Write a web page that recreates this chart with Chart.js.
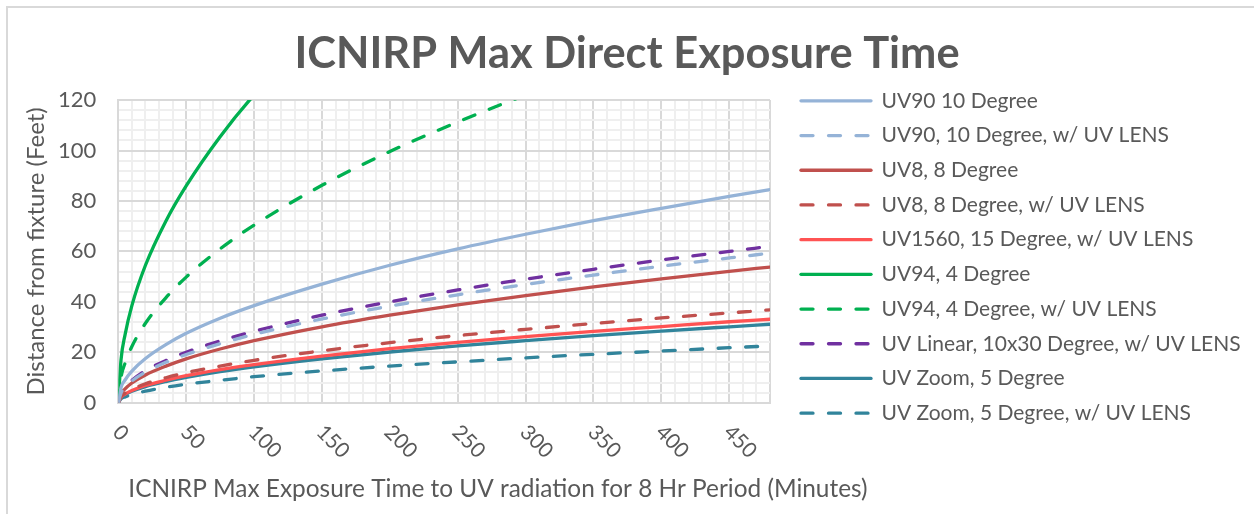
<!DOCTYPE html>
<html>
<head>
<meta charset="utf-8">
<title>ICNIRP Max Direct Exposure Time</title>
<script src="https://cdn.jsdelivr.net/npm/chart.js@4.4.1/dist/chart.umd.min.js"></script>
<style>
    html, body { margin: 0; padding: 0; background: #fff; overflow: hidden; }
    #frame { position: absolute; left: 6px; top: 6px; width: 1400px; height: 700px;
             border-left: 2px solid #D9D9D9; border-top: 2px solid #D9D9D9; }
    #chart { position: absolute; left: 0; top: 0; }
</style>
</head>
<body>
<div id="frame"></div>
<canvas id="chart" width="1254" height="514"></canvas>
<script>
/* jshint esversion: 6 */

let minutes = [0, 2, 5, 10, 20, 35, 50, 75, 100, 150, 200, 250, 300, 350, 400, 450, 480];

// Distance from fixture (feet) for each fixture
let uv90 =       [0, 6, 9, 12.5, 17.5, 23, 27.5, 33.5, 38.5, 47, 54.5, 61, 66.8, 72.2, 77.1, 81.8, 84.5];
let uv90Lens =   [0, 3.8, 6, 8.6, 12.1, 16, 19.1, 23.4, 27.1, 33.2, 38.3, 42.8, 46.9, 50.6, 54.1, 57.4, 59.3];
let uv8 =        [0, 3.5, 5.5, 7.8, 11, 14.5, 17.4, 21.3, 24.6, 30.1, 34.7, 38.8, 42.5, 45.9, 49.1, 52.1, 53.8];
let uv8Lens =    [0, 2.4, 3.8, 5.3, 7.5, 9.9, 11.9, 14.5, 16.8, 20.6, 23.8, 26.6, 29.1, 31.4, 33.6, 35.6, 36.8];
let uv1560Lens = [0, 2.1, 3.4, 4.8, 6.8, 8.9, 10.7, 13.1, 15.1, 18.5, 21.4, 23.9, 26.2, 28.3, 30.2, 32.1, 33.1];
let uv94 =       [0, 17, 27, 38.5, 54.5, 72, 86, 105.5, 122, 149, null, null, null, null, null, null, null];
let uv94Lens =   [0, 10, 15.7, 22.3, 31.5, 41.6, 49.8, 61, 70.4, 86.2, 99.6, 111.3, 122, 131.7, null, null, null];
let uvLinear =   [0, 4, 6.3, 8.9, 12.7, 16.7, 20, 24.5, 28.3, 34.7, 40, 44.7, 49, 52.9, 56.6, 60, 62];
let uvZoom =     [0, 2, 3.2, 4.5, 6.4, 8.4, 10, 12.3, 14.2, 17.4, 20.1, 22.5, 24.6, 26.6, 28.4, 30.1, 31.1];
let uvZoomLens = [0, 1.5, 2.3, 3.2, 4.6, 6.1, 7.3, 8.9, 10.3, 12.6, 14.5, 16.2, 17.8, 19.2, 20.5, 21.8, 22.5];

let xTickValues = [0, 50, 100, 150, 200, 250, 300, 350, 400, 450];
let yTickValues = [0, 20, 40, 60, 80, 100, 120];

let xTitle = "ICNIRP Max Exposure Time to UV radiation for 8 Hr Period (Minutes)";

let textColor = "#595959";
let majorGrid = "#D9D9D9";
let minorGrid = "#EFEFEF";

function makeLine(label, values, color, dashed) {
    return {
        label: label,
        data: minutes.map((m, i) => ({ x: m, y: values[i] })),
        borderColor: color,
        backgroundColor: color,
        borderWidth: 3.3,
        borderDash: dashed ? [12, 15.5] : [],
        borderCapStyle: "round",
        pointRadius: 0,
        cubicInterpolationMode: "monotone",
        yAxisID: "y"
    };
}

// Rotated x tick labels at the x scale's own tick positions, plus the x title
// (the scale title would be squeezed to the plot width)
let xAxisText = {
    id: "xAxisText",
    afterDraw: function (chart) {
        let ctx = chart.ctx;
        let scale = chart.scales.x;
        ctx.save();
        ctx.fillStyle = textColor;
        ctx.textBaseline = "middle";
        ctx.textAlign = "left";
        ctx.font = "21px Lato";
        xTickValues.forEach(v => {
            ctx.save();
            ctx.translate(scale.getPixelForValue(v) - 2, chart.chartArea.bottom + 26);
            ctx.rotate(Math.PI / 4);
            ctx.fillText(String(v), 0, 0);
            ctx.restore();
        });
        ctx.font = "24.4px Lato";
        ctx.fillText(xTitle, scale.left + 10, 489);
        ctx.restore();
    }
};

// Chart.js caps a side legend at a fraction of the canvas, so give it the full right strip
let legendWidth = {
    id: "legendWidth",
    beforeInit: function (chart) {
        let fit = chart.legend.fit;
        chart.legend.fit = function () {
            fit.call(this);
            this.width = 1254 - 787.3;
        };
    }
};

function drawChart() {
    let canvas = document.getElementById("chart");

    let datasets = [
        makeLine("UV90 10 Degree", uv90, "#95B3D7", false),
        makeLine("UV90, 10 Degree, w/ UV LENS", uv90Lens, "#95B3D7", true),
        makeLine("UV8, 8 Degree", uv8, "#C0504D", false),
        makeLine("UV8, 8 Degree, w/ UV LENS", uv8Lens, "#C0504D", true),
        makeLine("UV1560, 15 Degree, w/ UV LENS", uv1560Lens, "#FF5353", false),
        makeLine("UV94, 4 Degree", uv94, "#00B050", false),
        makeLine("UV94, 4 Degree, w/ UV LENS", uv94Lens, "#00B050", true),
        makeLine("UV Linear, 10x30 Degree, w/ UV LENS", uvLinear, "#7030A0", true),
        makeLine("UV Zoom, 5 Degree", uvZoom, "#31849B", false),
        makeLine("UV Zoom, 5 Degree, w/ UV LENS", uvZoomLens, "#31849B", true)
    ];

    new Chart(canvas, {
        type: "line",
        data: { datasets: datasets },
        plugins: [xAxisText, legendWidth],
        options: {
            responsive: false,
            animation: false,
            layout: { padding: 0 },
            plugins: {
                tooltip: { enabled: false },
                title: {
                    display: true,
                    text: "ICNIRP Max Direct Exposure Time",
                    color: textColor,
                    font: { family: "Lato", size: 43.4, weight: "bold" },
                    padding: { top: 28, bottom: 20 }
                },
                legend: {
                    position: "right",
                    align: "center",
                    labels: {
                        usePointStyle: true,
                        pointStyle: "line",
                        pointStyleWidth: 70,
                        padding: 13.7,
                        color: textColor,
                        font: { family: "Lato", size: 21 },
                        generateLabels: function (chart) {
                            let items = Chart.defaults.plugins.legend.labels.generateLabels(chart);
                            items.forEach(item => {
                                let ds = chart.data.datasets[item.datasetIndex];
                                item.lineDash = ds.borderDash;
                                item.lineWidth = 3.3;
                                item.lineCap = "round";
                                item.strokeStyle = ds.borderColor;
                                item.pointStyle = "line";
                            });
                            return items;
                        }
                    }
                }
            },
            scales: {
                x: {
                    type: "linear",
                    min: 0,
                    max: 480,
                    afterFit: function (scale) { scale.height = 111.3; },
                    ticks: { display: false, stepSize: 10, maxTicksLimit: 100, autoSkip: false },
                    grid: {
                        drawTicks: false,
                        lineWidth: 2,
                        color: c => (c.tick.value % 50 === 0 || c.tick.value === 480 ? majorGrid : minorGrid)
                    },
                    border: { color: majorGrid, width: 2 }
                },
                y: {
                    min: 0,
                    max: 120,
                    afterFit: function (scale) { scale.width = 118.3; },
                    ticks: {
                        stepSize: 4,
                        maxTicksLimit: 100,
                        autoSkip: false,
                        padding: 22,
                        color: textColor,
                        font: { family: "Lato", size: 22 },
                        callback: v => (yTickValues.includes(v) ? v : "")
                    },
                    grid: {
                        drawTicks: false,
                        lineWidth: 2,
                        color: c => (c.tick.value % 20 === 0 ? majorGrid : minorGrid)
                    },
                    border: { color: majorGrid, width: 2 },
                    title: {
                        display: true,
                        text: "Distance from fixture (Feet)",
                        color: textColor,
                        font: { family: "Lato", size: 24 },
                        padding: { top: 21.6, bottom: 0 }
                    }
                },
                // empty strip between the plot and the legend
                gap: {
                    position: "right",
                    afterFit: function (scale) { scale.width = 17.3; },
                    ticks: { display: false },
                    grid: { display: false, drawTicks: false },
                    border: { display: false }
                }
            }
        }
    });
}

Promise.all([
    document.fonts.load("22px Lato"),
    document.fonts.load("bold 43px Lato")
]).then(drawChart, drawChart);
</script>
</body>
</html>
